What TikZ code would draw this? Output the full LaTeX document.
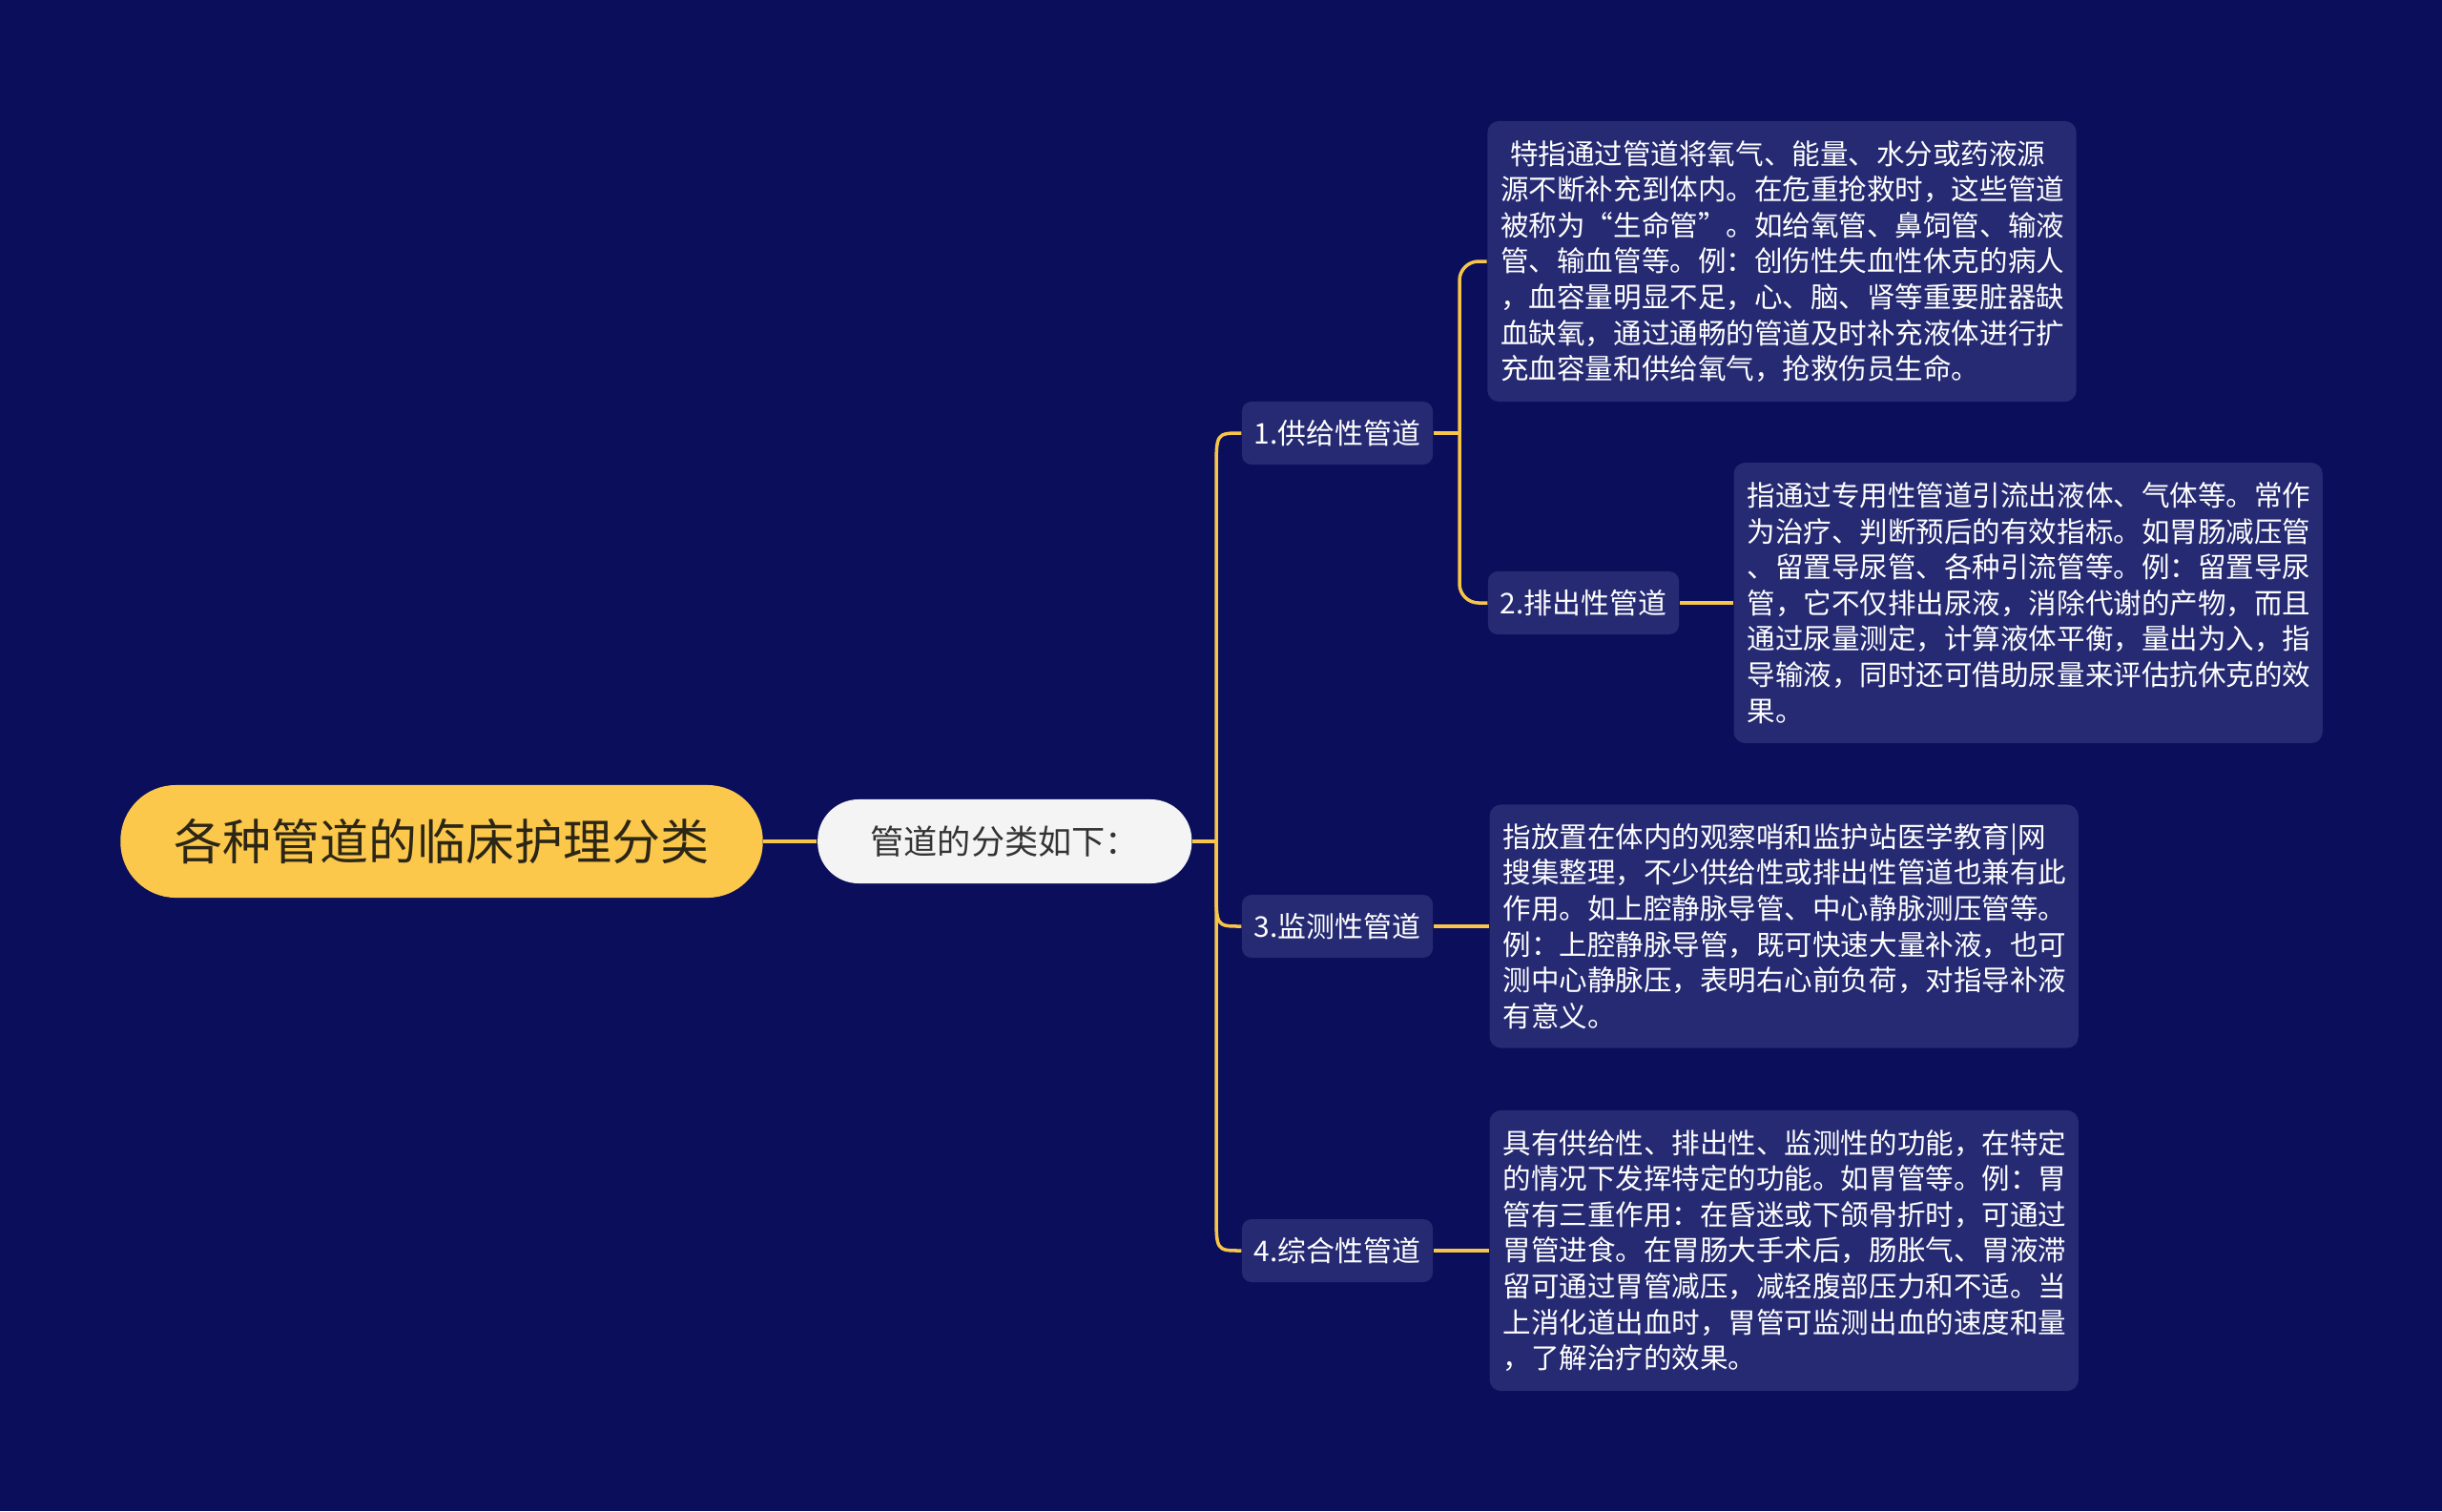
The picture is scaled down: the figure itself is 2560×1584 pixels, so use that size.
\documentclass[tikz,border=0pt]{standalone}
\usepackage{fontspec}
\setmainfont{Noto Sans CJK SC}
\usepackage{xcolor}
\usepackage{tikz}
\usetikzlibrary{positioning,calc}
\definecolor{nightnavy}{HTML}{0A0E5B}
\definecolor{panelblue}{HTML}{252A73}
\definecolor{branchgold}{HTML}{F7C548}
\definecolor{rootgold}{HTML}{FCC84B}
\definecolor{rootink}{HTML}{2B2616}
\definecolor{paperwhite}{HTML}{F4F4F4}
\definecolor{softink}{HTML}{333333}

\begin{document}
\begin{tikzpicture}[
    x=0.01cm, y=-0.01cm,
    root/.style={rectangle, fill=rootgold, text=rootink, rounded corners=0.58cm, minimum width=6.73cm, minimum height=1.18cm, font=\fontsize{14.5pt}{17pt}\selectfont},
    hub/.style={rectangle, fill=paperwhite, text=softink, rounded corners=0.43cm, minimum width=3.92cm, minimum height=0.88cm, font=\fontsize{10pt}{12pt}\selectfont},
    kind/.style={rectangle, fill=panelblue, text=white, rounded corners=0.1cm, minimum width=2cm, minimum height=0.66cm, inner sep=0pt, font=\fontsize{8.5pt}{10pt}\selectfont},
    note/.style={rectangle, fill=panelblue, text=white, rounded corners=0.12cm, text width=5.89cm, align=left, inner xsep=0.14cm, inner ysep=0pt, font=\fontsize{8.4pt}{10.7pt}\selectfont},
    link/.style={draw=branchgold, line width=1pt}
]

% Canvas
\fill[nightnavy] (0,0) rectangle (2560,1584);

% Root and overview
\node[root] (title) at (463,882) {各种管道的临床护理分类};
\node[hub, right=0.56cm of title] (overview) {管道的分类如下：};
\coordinate (fork) at (1275,882);

% 1. Supply tubes
\node[kind] (supply) at (1402,454) {1.供给性管道};
\node[note, minimum height=2.94cm] (supplynote) at (1868,274) {
    \ 特指通过管道将氧气、能量、水分或药液源\\
    源不断补充到体内。在危重抢救时，这些管道\\
    被称为“生命管”。如给氧管、鼻饲管、输液\\
    管、输血管等。例：创伤性失血性休克的病人\\
    ，血容量明显不足，心、脑、肾等重要脏器缺\\
    血缺氧，通过通畅的管道及时补充液体进行扩\\
    充血容量和供给氧气，抢救伤员生命。
};

% 2. Drainage tubes
\node[kind] (drain) at (1660,632) {2.排出性管道};
\node[note, minimum height=2.94cm, right=0.56cm of drain] (drainnote) {
    指通过专用性管道引流出液体、气体等。常作\\
    为治疗、判断预后的有效指标。如胃肠减压管\\
    、留置导尿管、各种引流管等。例：留置导尿\\
    管，它不仅排出尿液，消除代谢的产物，而且\\
    通过尿量测定，计算液体平衡，量出为入，指\\
    导输液，同时还可借助尿量来评估抗休克的效\\
    果。
};

% 3. Monitoring tubes
\node[kind] (monitor) at (1402,971) {3.监测性管道};
\node[note, minimum height=2.55cm, right=0.58cm of monitor] (monitornote) {
    指放置在体内的观察哨和监护站医学教育|网\\
    搜集整理，不少供给性或排出性管道也兼有此\\
    作用。如上腔静脉导管、中心静脉测压管等。\\
    例：上腔静脉导管，既可快速大量补液，也可\\
    测中心静脉压，表明右心前负荷，对指导补液\\
    有意义。
};

% 4. Combined tubes
\node[kind] (combined) at (1402,1311) {4.综合性管道};
\node[note, minimum height=2.94cm, right=0.58cm of combined] (combinednote) {
    具有供给性、排出性、监测性的功能，在特定\\
    的情况下发挥特定的功能。如胃管等。例：胃\\
    管有三重作用：在昏迷或下颌骨折时，可通过\\
    胃管进食。在胃肠大手术后，肠胀气、胃液滞\\
    留可通过胃管减压，减轻腹部压力和不适。当\\
    上消化道出血时，胃管可监测出血的速度和量\\
    ，了解治疗的效果。
};

% Connectors
\draw[link] (title) -- (overview);
\draw[link] (overview) -- (fork);
\draw[link] (fork) -- ($(fork |- supply.west)+(0,40)$) .. controls (fork |- supply.west) .. (supply.west);
\draw[link] (fork) -- ($(fork |- monitor.west)+(0,-40)$) .. controls (fork |- monitor.west) .. (monitor.west);
\draw[link] (fork) -- ($(fork |- combined.west)+(0,-40)$) .. controls (fork |- combined.west) .. (combined.west);

\coordinate (split) at (1530,454);
\draw[link] (supply.east) -- (split);
\draw[link, rounded corners=0.2cm] (supplynote.west) -| (split) |- (drain.west);
\draw[link] (drain) -- (drainnote);
\draw[link] (monitor) -- (monitornote);
\draw[link] (combined) -- (combinednote);

\end{tikzpicture}
\end{document}
